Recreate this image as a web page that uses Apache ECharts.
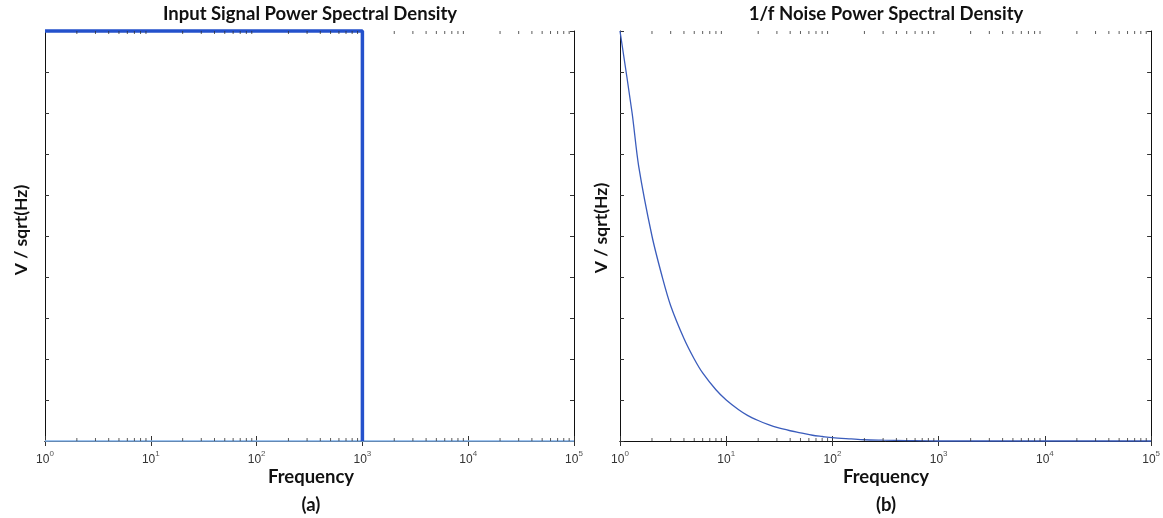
<!DOCTYPE html>
<html>
<head>
<meta charset="utf-8">
<script src="https://cdn.jsdelivr.net/npm/echarts@6/dist/echarts.min.js"></script>
<style>
  html, body { margin: 0; padding: 0; background: #fff; }
  #main { width: 1163px; height: 518px; }
</style>
</head>
<body>
<div id="main"></div>
<script>
// (a) input signal: flat up to 1 kHz, then zero
const signalFreq = [1, 1000, 1000]
const signalLevel = [1, 1, 0]
const baselineFreq = [1, 100000]
const baselineLevel = [0, 0]

// (b) 1/f noise
const noiseFreq = [1, 1.3, 1.5, 2, 2.5, 3, 4, 5, 6, 8, 10, 13, 16, 20, 25, 30, 40, 50, 65, 80, 100, 150, 200, 300, 500, 1000, 100000]
const noiseLevel = [1, 0.8, 0.67, 0.5, 0.4, 0.33, 0.25, 0.2, 0.166, 0.125, 0.1, 0.077, 0.062, 0.05, 0.04, 0.033, 0.025, 0.02, 0.014, 0.011, 0.008, 0.005, 0.003, 0.002, 0.001, 0, 0]

// log axis minor tick spots (2..9 in each decade)
const decades = [1, 10, 100, 1000, 10000]
const minorSteps = [2, 3, 4, 5, 6, 7, 8, 9]

const minorTicks = []
decades.forEach(d => minorSteps.forEach(s => minorTicks.push(d * s)))

const pairs = (xs, ys) => xs.map((x, i) => [x, ys[i]])

const boldFont = 'Lato, "Open Sans", sans-serif'
const tickColor = '#333'

const grids = [
  {left: 45, right: 589, top: 31, bottom: 77},
  {left: 620, right: 10, top: 31, bottom: 77}
]

const logLabel = {
  fontFamily: 'Liberation Sans, Arial',
  fontSize: 12,
  color: '#333',
  margin: 9,
  formatter: v => '{b|10}{s|' + Math.round(Math.log10(v)) + '}',
  rich: {
    b: {fontSize: 12, color: '#333', fontFamily: 'Liberation Sans, Arial', lineHeight: 16, verticalAlign: 'bottom'},
    s: {fontSize: 8, color: '#555', fontFamily: 'Liberation Sans, Arial', lineHeight: 16, verticalAlign: 'top', padding: [0, 0, 6, 0]}
  }
}

const makeX = (gridIndex, position) => ({
  type: 'log',
  logBase: 10,
  gridIndex,
  position,
  min: 1,
  max: 100000,
  axisLine: {show: true, lineStyle: {color: '#111', width: 1}},
  axisTick: {show: true, inside: true, length: 5, lineStyle: {color: tickColor}},
  axisLabel: position === 'bottom' ? logLabel : {show: false},
  splitLine: {show: false},
  minorTick: {show: false}
})

const makeY = (gridIndex, position) => ({
  type: 'value',
  gridIndex,
  position,
  min: 0,
  max: 1,
  interval: 0.1,
  axisLine: {show: true, lineStyle: {color: '#111', width: 1}},
  axisTick: {show: true, inside: true, length: 4, lineStyle: {color: tickColor}},
  axisLabel: {show: false},
  splitLine: {show: false}
})

// x axes: 0,1 -> plot (a) bottom/top ; 2,3 -> plot (b) bottom/top
const xAxes = [makeX(0, 'bottom'), makeX(0, 'top'), makeX(1, 'bottom'), makeX(1, 'top')]
const yAxes = [makeY(0, 'left'), makeY(0, 'right'), makeY(1, 'left'), makeY(1, 'right')]

const minorTickSeries = (xi, yi) => ([
  {
    type: 'scatter',
    xAxisIndex: xi,
    yAxisIndex: yi,
    data: minorTicks.map(f => [f, 0]),
    symbol: 'rect',
    symbolSize: [1, 3],
    symbolOffset: [0, -1.5],
    itemStyle: {color: tickColor},
    silent: true,
    clip: false,
    z: 5
  },
  {
    type: 'scatter',
    xAxisIndex: xi,
    yAxisIndex: yi,
    data: minorTicks.map(f => [f, 1]),
    symbol: 'rect',
    symbolSize: [1, 3],
    symbolOffset: [0, 1.5],
    itemStyle: {color: tickColor},
    silent: true,
    clip: false,
    z: 5
  }
])

const textEl = (text, x, y, size, rotation) => ({
  type: 'text',
  x,
  y,
  rotation: rotation || 0,
  style: {
    text,
    fill: '#111',
    font: 'bold ' + size + 'px ' + boldFont,
    textAlign: 'center',
    textVerticalAlign: 'middle'
  }
})

const chart = echarts.init(document.getElementById('main'), null, {renderer: 'canvas'})

chart.setOption({
  animation: false,
  backgroundColor: '#fff',
  grid: grids,
  xAxis: xAxes,
  yAxis: yAxes,
  graphic: [
    textEl('Input Signal Power Spectral Density', 310, 14, 18.5),
    textEl('1/f Noise Power Spectral Density', 886, 14, 18.5),
    textEl('Frequency', 311, 477, 18.5),
    textEl('Frequency', 886, 477, 18.5),
    textEl('(a)', 311, 505, 18.5),
    textEl('(b)', 886, 505, 18.5),
    textEl('V / sqrt(Hz)', 21, 230, 17.5, Math.PI / 2),
    textEl('V / sqrt(Hz)', 601, 228, 17.5, Math.PI / 2)
  ],
  series: [
    {
      type: 'line',
      xAxisIndex: 0,
      yAxisIndex: 0,
      data: pairs(baselineFreq, baselineLevel),
      showSymbol: false,
      lineStyle: {color: '#7fb0ea', width: 1.5},
      clip: false,
      z: 3
    },
    {
      type: 'line',
      xAxisIndex: 0,
      yAxisIndex: 0,
      data: pairs(signalFreq, signalLevel),
      showSymbol: false,
      lineStyle: {color: '#2451cc', width: 3.5},
      clip: false,
      z: 4
    },
    ...minorTickSeries(0, 0),
    {
      type: 'line',
      xAxisIndex: 2,
      yAxisIndex: 2,
      data: pairs(noiseFreq, noiseLevel),
      showSymbol: false,
      smooth: 0.3,
      lineStyle: {color: '#3a5cbc', width: 1.3},
      clip: false,
      z: 4
    },
    ...minorTickSeries(2, 2)
  ]
})
</script>
</body>
</html>
